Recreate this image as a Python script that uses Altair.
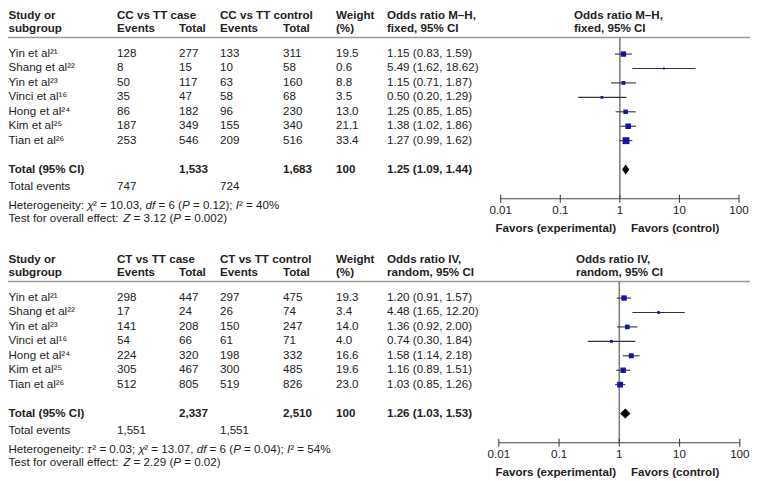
import altair as alt
import pandas as pd

# ---------------- data ----------------
study_names = ["Yin et al²¹", "Shang et al²²", "Yin et al²³", "Vinci et al¹⁶",
               "Hong et al²⁴", "Kim et al²⁵", "Tian et al²⁶"]

# CC vs TT (fixed, M-H)
cc_case_events = [128, 8, 50, 35, 86, 187, 253]
cc_case_total = [277, 15, 117, 47, 182, 349, 546]
cc_ctrl_events = [133, 10, 63, 58, 96, 155, 209]
cc_ctrl_total = [311, 58, 160, 68, 230, 340, 516]
cc_weight = [19.5, 0.6, 8.8, 3.5, 13.0, 21.1, 33.4]
cc_or = [1.15, 5.49, 1.15, 0.50, 1.25, 1.38, 1.27]
cc_lo = [0.83, 1.62, 0.71, 0.20, 0.85, 1.02, 0.99]
cc_hi = [1.59, 18.62, 1.87, 1.29, 1.85, 1.86, 1.62]
cc_summary = [1.25, 1.09, 1.44]
cc_totals = ["1,533", "1,683", "100"]
cc_total_events = ["747", "724"]
cc_headers = ["CC vs TT case", "CC vs TT control", "Odds ratio M–H,", "fixed, 95% CI"]
cc_heterogeneity = [("Heterogeneity: ", False), ("χ", True), ("² = 10.03, ", False), ("df", True),
                    (" = 6 (", False), ("P", True), (" = 0.12); ", False), ("I", True), ("² = 40%", False)]
cc_overall = [("Test for overall effect: ", False), ("Z", True), (" = 3.12 (", False), ("P", True),
              (" = 0.002)", False)]

# CT vs TT (random, IV)
ct_case_events = [298, 17, 141, 54, 224, 305, 512]
ct_case_total = [447, 24, 208, 66, 320, 467, 805]
ct_ctrl_events = [297, 26, 150, 61, 198, 300, 519]
ct_ctrl_total = [475, 74, 247, 71, 332, 485, 826]
ct_weight = [19.3, 3.4, 14.0, 4.0, 16.6, 19.6, 23.0]
ct_or = [1.20, 4.48, 1.36, 0.74, 1.58, 1.16, 1.03]
ct_lo = [0.91, 1.65, 0.92, 0.30, 1.14, 0.89, 0.85]
ct_hi = [1.57, 12.20, 2.00, 1.84, 2.18, 1.51, 1.26]
ct_summary = [1.26, 1.03, 1.53]
ct_totals = ["2,337", "2,510", "100"]
ct_total_events = ["1,551", "1,551"]
ct_headers = ["CT vs TT case", "CT vs TT control", "Odds ratio IV,", "random, 95% CI"]
ct_heterogeneity = [("Heterogeneity: ", False), ("τ", True), ("² = 0.03; ", False), ("χ", True),
                    ("² = 13.07, ", False), ("df", True), (" = 6 (", False), ("P", True),
                    (" = 0.04); ", False), ("I", True), ("² = 54%", False)]
ct_overall = [("Test for overall effect: ", False), ("Z", True), (" = 2.29 (", False), ("P", True),
              (" = 0.02)", False)]

common_headers = ["Study or", "subgroup", "Events", "Total", "Weight", "(%)",
                  "Total (95% CI)", "Total events"]
tick_values = [0.01, 0.1, 1, 10, 100]
tick_labels = ["0.01", "0.1", "1", "10", "100"]
favor_labels = ["Favors (experimental)", "Favors (control)"]

# ---------------- style / layout ----------------
FONT = "Liberation Sans"
TXT = "#222222"
BLUE = "#1414a6"
FS = 11.6

# approximate advance widths (em) of Liberation Sans / Arial, for placing italic runs
ADV = {" ": .278, "%": .889, "(": .333, ")": .333, ",": .278, ".": .278, ":": .278, ";": .278,
       "=": .584, "H": .722, "I": .278, "P": .667, "T": .611, "Z": .611, "a": .556, "c": .5,
       "d": .556, "e": .556, "f": .278, "g": .556, "h": .556, "i": .222, "l": .222, "n": .556,
       "o": .556, "r": .333, "s": .5, "t": .278, "v": .5, "y": .5, "²": .333, "χ": .5, "τ": .44}


def adv(s):
    return sum(ADV.get(c, .556) for c in s) * FS


def sx(v):
    # page x of the reference -> chart x (8px page margin)
    return max(round(v - 8, 1), 0.5)


def txt(s, x, y, bold=False, align="left", italic=False):
    return alt.Chart(pd.DataFrame({"t": [s]})).mark_text(
        align=align, baseline="middle", font=FONT, fontSize=FS,
        fontWeight="bold" if bold else "normal", fontStyle="italic" if italic else "normal",
        color=TXT
    ).encode(x=alt.value(x), y=alt.value(y), text="t:N")


def runs(parts, x0, y):
    out = []
    cur = x0
    for s, it in parts:
        lead = len(s) - len(s.lstrip())
        out.append(txt(s.strip(), round(cur + adv(s[:lead]), 1), y, italic=it))
        cur += adv(s)
    return out


def panel(d, dy, xr, hx):
    ys = alt.Scale(domain=[0, 10], range=[31.6 + dy, 31.6 + dy + 144.4], nice=False, zero=False)
    xs = alt.Scale(type="log", domain=[tick_values[0], tick_values[-1]],
                   range=[xr[0], xr[1]], nice=False)
    Y = alt.Y("r:Q", scale=ys, axis=None)
    df = pd.DataFrame({
        "r": list(range(1, 8)),
        "study": study_names,
        "ev1": [str(v) for v in d["ce"]],
        "tot1": [str(v) for v in d["ct"]],
        "ev2": [str(v) for v in d["ke"]],
        "tot2": [str(v) for v in d["kt"]],
        "wt": [f"{w:.1f}" for w in d["w"]],
        "weight": d["w"],
        "or": d["or"], "lo": d["lo"], "hi": d["hi"],
        "ortxt": [f"{o:.2f} ({l:.2f}, {h:.2f})" for o, l, h in zip(d["or"], d["lo"], d["hi"])],
    })
    cols = {"study": 0, "ev1": 117, "tot1": 179, "ev2": 220, "tot2": 283, "wt": 336, "ortxt": 387}
    layers = []
    # header texts
    h = d["headers"]
    y1, y2 = 7.5 + dy, 21 + dy
    layers += [
        txt(common_headers[0], sx(0), y1, True), txt(common_headers[1], sx(0), y2, True),
        txt(h[0], sx(117), y1, True), txt(common_headers[2], sx(117), y2, True),
        txt(common_headers[3], sx(179), y2, True),
        txt(h[1], sx(220), y1, True), txt(common_headers[2], sx(220), y2, True),
        txt(common_headers[3], sx(283), y2, True),
        txt(common_headers[4], sx(336), y1, True), txt(common_headers[5], sx(336), y2, True),
        txt(h[2], sx(387), y1, True), txt(h[3], sx(387), y2, True),
        txt(h[2], sx(hx), y1, True), txt(h[3], sx(hx), y2, True),
    ]
    # header rule
    layers.append(alt.Chart(pd.DataFrame({"a": [0]})).mark_rule(color="#9a9a9a", strokeWidth=1.5).encode(
        x=alt.value(0), x2=alt.value(sx(750)), y=alt.value(29.5 + dy)))
    # table columns
    for field, x in cols.items():
        layers.append(alt.Chart(df).mark_text(
            align="left", baseline="middle", font=FONT, fontSize=FS, color=TXT
        ).encode(x=alt.value(sx(x)), y=Y, text=f"{field}:N"))
    # total row
    s = d["summary"]
    tot = pd.DataFrame({
        "r": [9], "lab": [common_headers[6]], "t1": [d["totals"][0]], "t2": [d["totals"][1]],
        "t3": [d["totals"][2]], "ortxt": [f"{s[0]:.2f} ({s[1]:.2f}, {s[2]:.2f})"]})
    for field, x in [("lab", 0), ("t1", 179), ("t2", 283), ("t3", 336), ("ortxt", 387)]:
        layers.append(alt.Chart(tot).mark_text(
            align="left", baseline="middle", font=FONT, fontSize=FS, fontWeight="bold", color=TXT
        ).encode(x=alt.value(sx(x)), y=Y, text=f"{field}:N"))
    # total events, heterogeneity, overall effect
    layers += [
        txt(common_headers[7], sx(0), 179 + dy),
        txt(d["tev"][0], sx(117), 179 + dy), txt(d["tev"][1], sx(220), 179 + dy),
    ]
    layers += runs(d["het"], sx(0), 197.5 + dy)
    layers += runs(d["ove"], sx(0), 211 + dy)
    # null line at OR = 1
    layers.append(alt.Chart(pd.DataFrame({"v": [1.0]})).mark_rule(color="#808080", strokeWidth=1.6).encode(
        x=alt.X("v:Q", scale=xs, axis=None), y=alt.value(29.5 + dy), y2=alt.value(190.7 + dy)))
    # CI lines
    layers.append(alt.Chart(df).mark_rule(color="#333333", strokeWidth=1.1).encode(
        x=alt.X("lo:Q", scale=xs, axis=None), x2="hi:Q", y=Y))
    # squares
    layers.append(alt.Chart(df).mark_square(color=BLUE, opacity=1).encode(
        x=alt.X("or:Q", scale=xs, axis=None), y=Y,
        size=alt.Size("weight:Q", scale=alt.Scale(domain=[0, 34], range=[3, 48]), legend=None)))
    # diamond
    hh = 0.35
    dia = pd.DataFrame({"x": [s[1], s[0], s[2]], "r": [9, 9 - hh, 9], "r2": [9, 9 + hh, 9]})
    layers.append(alt.Chart(dia).mark_area(color="black", orient="vertical", opacity=1).encode(
        x=alt.X("x:Q", scale=xs, axis=None), y=Y, y2="r2:Q"))
    # axis
    tk = pd.DataFrame({"v": tick_values, "lab": tick_labels})
    layers.append(alt.Chart(tk).mark_rule(color="#444444", strokeWidth=1.1).encode(
        x=alt.X("min(v):Q", scale=xs, axis=None), x2="max(v):Q", y=alt.value(190.7 + dy)))
    layers.append(alt.Chart(tk).mark_rule(color="#444444", strokeWidth=1.1).encode(
        x=alt.X("v:Q", scale=xs, axis=None), y=alt.value(186.7 + dy), y2=alt.value(194.7 + dy)))
    layers.append(alt.Chart(tk).mark_text(
        align="center", baseline="middle", font=FONT, fontSize=FS, color=TXT
    ).encode(x=alt.X("v:Q", scale=xs, axis=None), y=alt.value(202.5 + dy), text="lab:N"))
    layers += [
        txt(favor_labels[0], sx(616), 221 + dy, True, "right"),
        txt(favor_labels[1], sx(631), 221 + dy, True, "left"),
    ]
    return alt.layer(*layers)


top = panel(dict(ce=cc_case_events, ct=cc_case_total, ke=cc_ctrl_events, kt=cc_ctrl_total,
                 w=cc_weight, lo=cc_lo, hi=cc_hi, summary=cc_summary, totals=cc_totals,
                 tev=cc_total_events, headers=cc_headers, het=cc_heterogeneity, ove=cc_overall,
                 **{"or": cc_or}), 0, (sx(500.7), sx(739.0)), 574)
bottom = panel(dict(ce=ct_case_events, ct=ct_case_total, ke=ct_ctrl_events, kt=ct_ctrl_total,
                    w=ct_weight, lo=ct_lo, hi=ct_hi, summary=ct_summary, totals=ct_totals,
                    tev=ct_total_events, headers=ct_headers, het=ct_heterogeneity, ove=ct_overall,
                    **{"or": ct_or}), 244, (sx(619.3) - 120.5, sx(619.3) + 120.5), 576)

chart = alt.layer(top, bottom).resolve_scale(x="independent", y="independent").properties(
    width=742, height=473, autosize=alt.AutoSizeParams(type="none"), padding=0
).configure_view(stroke=None)

chart.save("out.html", embed_options={"renderer": "svg", "actions": False})
